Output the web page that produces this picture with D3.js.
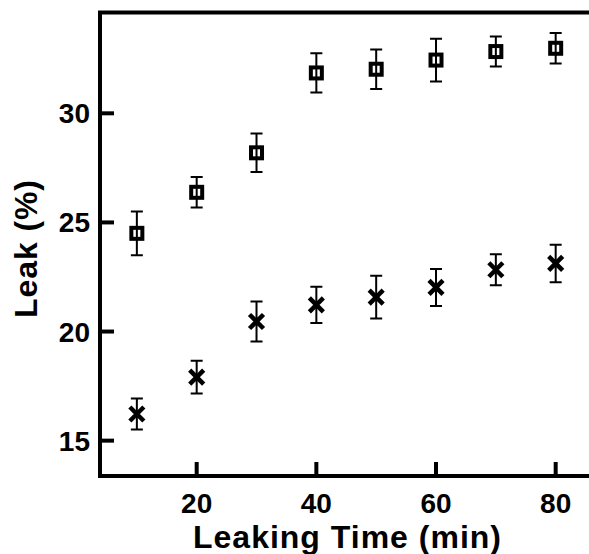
<!DOCTYPE html>
<html>
<head>
<meta charset="utf-8">
<script src="https://cdn.jsdelivr.net/npm/d3@7"></script>
<style>
  body { margin: 0; background: white; }
  text { font-family: "Liberation Sans", Arial, sans-serif; font-weight: bold; fill: black; }
</style>
</head>
<body>
<div id="chart"></div>
<script>
// Data
const times      = [10, 20, 30, 40, 50, 60, 70, 80];
const squareVals = [24.5, 26.38, 28.19, 31.85, 32.02, 32.44, 32.83, 32.98];
const squareErr  = [1.0, 0.7, 0.88, 0.9, 0.9, 0.98, 0.69, 0.7];
const crossVals  = [16.22, 17.91, 20.46, 21.22, 21.58, 22.02, 22.83, 23.12];
const crossErr   = [0.71, 0.75, 0.92, 0.83, 0.98, 0.85, 0.71, 0.86];
const xTicks     = [20, 40, 60, 80];
const yTicks     = [15, 20, 25, 30];

const width = 589, height = 554;
const plotLeft = 100, plotRight = 589, plotTop = 12.5, plotBottom = 476;

const svg = d3.select("#chart").append("svg")
  .attr("width", width)
  .attr("height", height);

const x = d3.scaleLinear().domain([3.84, 85.57]).range([plotLeft, plotRight]);
const y = d3.scaleLinear().domain([13.38, 34.62]).range([plotBottom, plotTop]);

// frame: left, top, bottom (right side is cut off)
svg.append("path")
  .attr("d", `M${plotRight + 5},${plotTop} H${plotLeft} V${plotBottom} H${plotRight + 5}`)
  .attr("fill", "none")
  .attr("stroke", "black")
  .attr("stroke-width", 4);

// ticks point inward
svg.append("g").selectAll("line")
  .data(xTicks)
  .enter().append("line")
    .attr("x1", d => x(d)).attr("x2", d => x(d))
    .attr("y1", plotBottom).attr("y2", plotBottom - 14)
    .attr("stroke", "black").attr("stroke-width", 4);

svg.append("g").selectAll("text")
  .data(xTicks)
  .enter().append("text")
    .attr("x", d => x(d))
    .attr("y", 513)
    .attr("text-anchor", "middle")
    .style("font-size", "28px")
    .text(d => d);

svg.append("g").selectAll("line")
  .data(yTicks)
  .enter().append("line")
    .attr("x1", plotLeft).attr("x2", plotLeft + 14)
    .attr("y1", d => y(d)).attr("y2", d => y(d))
    .attr("stroke", "black").attr("stroke-width", 4);

svg.append("g").selectAll("text")
  .data(yTicks)
  .enter().append("text")
    .attr("x", 90)
    .attr("y", d => y(d) + 10)
    .attr("text-anchor", "end")
    .style("font-size", "28px")
    .text(d => d);

// axis titles
svg.append("text")
  .attr("x", 347)
  .attr("y", 548)
  .attr("text-anchor", "middle")
  .style("font-size", "32px")
  .attr("textLength", 308)
  .text("Leaking Time (min)");

svg.append("text")
  .attr("transform", "translate(37,249) rotate(-90)")
  .attr("text-anchor", "middle")
  .style("font-size", "32px")
  .attr("textLength", 138)
  .text("Leak (%)");

// error bars
function errorBars(vals, errs, cls) {
  const g = svg.append("g").attr("class", cls);
  const rows = times.map((t, i) => ({ t: t, v: vals[i], e: errs[i] }));
  g.selectAll("path")
    .data(rows)
    .enter().append("path")
      .attr("d", d => {
        const cx = x(d.t), y1 = y(d.v + d.e), y2 = y(d.v - d.e);
        return `M${cx},${y1} V${y2} M${cx - 6},${y1} H${cx + 6} M${cx - 6},${y2} H${cx + 6}`;
      })
      .attr("fill", "none")
      .attr("stroke", "black")
      .attr("stroke-width", 2);
}
errorBars(squareVals, squareErr, "err-squares");
errorBars(crossVals, crossErr, "err-crosses");

// hollow squares
svg.append("g").selectAll("rect")
  .data(times)
  .enter().append("rect")
    .attr("x", (d, i) => x(d) - 5.5)
    .attr("y", (d, i) => y(squareVals[i]) - 5.5)
    .attr("width", 11)
    .attr("height", 11)
    .attr("fill", "none")
    .attr("stroke", "black")
    .attr("stroke-width", 4);

// crosses
svg.append("g").selectAll("path")
  .data(times)
  .enter().append("path")
    .attr("d", (d, i) => {
      const cx = x(d), cy = y(crossVals[i]), s = 7;
      return `M${cx - s},${cy - s} L${cx + s},${cy + s} M${cx - s},${cy + s} L${cx + s},${cy - s}`;
    })
    .attr("stroke", "black")
    .attr("stroke-width", 4.5);
</script>
</body>
</html>
